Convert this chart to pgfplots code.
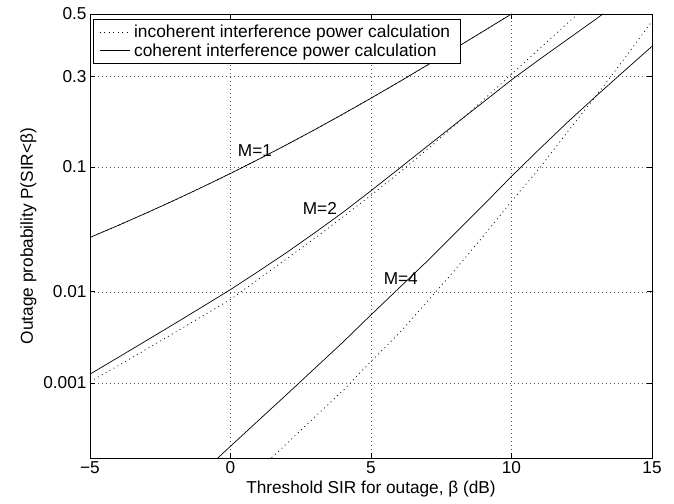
\documentclass[border=0pt]{standalone}
\usepackage{fontspec}
\setmainfont{Liberation Sans}
\usepackage{pgfplots}
\usepackage{pgfplotstable}
\pgfplotsset{compat=1.18}
\pgfplotsset{mylegline/.style={legend image code/.code={\draw[##1] (0bp,0bp) -- (30bp,0bp);}}}

% Outage probability series (x = threshold in dB, p = probability)
\pgfplotstableread{
x p
-5 0.03065
-4 0.03829
-3 0.04773
-2 0.05935
-1 0.07359
0 0.09091
1 0.1118
2 0.1368
3 0.1663
4 0.2008
5 0.2403
6 0.2847
7 0.3339
8 0.3869
9 0.4427
10 0.5
}\Mone
\pgfplotstableread{
x p
-5 0.00128
-4 0.00201
-3 0.00311
-2 0.00473
-1 0.0071
0 0.0105
1 0.0156
2 0.0229
3 0.0335
4 0.0483
5 0.0694
6 0.0977
7 0.1339
8 0.1783
9 0.2302
10 0.2905
11 0.3520
12 0.4161
13 0.4825
13.25 0.5
}\MtwoCoh
\pgfplotstableread{
x p
-5 0.00104
-4 0.00161
-3 0.00249
-2 0.00379
-1 0.0057
0 0.00842
1 0.01321
2 0.02018
3 0.0302
4 0.04457
5 0.0645
6 0.09176
7 0.1282
8 0.1762
9 0.2358
10 0.3068
11 0.3859
12 0.4701
12.36 0.5
}\MtwoInc
\pgfplotstableread{
x p
-1 0.000062
0 0.000147
1 0.000333
2 0.00072
3 0.00150
4 0.00299
5 0.00587
6 0.01087
7 0.01923
8 0.03325
9 0.0548
10 0.08691
11 0.1292
12 0.1827
13 0.2451
14 0.3156
15 0.3932
}\MfourCoh
\pgfplotstableread{
x p
1 0.0000667
2 0.000160
3 0.000369
4 0.000803
5 0.00181
6 0.00374
7 0.00798
8 0.01618
9 0.03144
10 0.0583
11 0.0985
12 0.1623
13 0.2451
14 0.3520
15 0.4761
}\MfourInc

\newcommand{\chartfont}{\fontsize{17.3}{20}\selectfont}
\newcommand{\legfont}{\fontsize{17.4}{20}\selectfont}

\begin{document}
\begin{tikzpicture}
\path[use as bounding box] (-90bp,-46bp) rectangle (584bp,458bp);
\begin{axis}[
  at={(0,0)}, anchor=south west,
  scale only axis, width=562bp, height=444bp,
  xmin=-5, xmax=15, ymin=0.0001, ymax=0.5,
  y coord trafo/.code={%
    \begingroup
    \pgfkeys{/pgf/fpu=true,/pgf/fpu/output format=fixed}%
    \pgfmathparse{sqrt(-2*ln(#1))}\let\myT\pgfmathresult
    \pgfmathparse{-(\myT-(2.515517+0.802853*\myT+0.010328*\myT*\myT)/(1+1.432788*\myT+0.189269*\myT*\myT+0.001308*\myT*\myT*\myT))}%
    \xdef\myProbitRes{\pgfmathresult}%
    \endgroup
    \let\pgfmathresult\myProbitRes},
  xtick={-5,0,5,10,15}, xticklabels={−5,0,5,10,15},
  ytick={0.001,0.01,0.1,0.3,0.5}, yticklabels={0.001,0.01,0.1,0.3,0.5},
  /pgf/number format/assume math mode=true,
  tick align=inside, major tick length=5bp,
  every tick/.style={black, line width=0.8bp},
  grid=major,
  major grid style={draw=black!65, line width=0.5bp, dash pattern=on 0.8bp off 3.2bp},
  axis line style={line width=0.8bp},
  tick label style={font=\chartfont},
  label style={font=\chartfont},
  xlabel={Threshold SIR for outage, β (dB)},
  ylabel={Outage probability P(SIR<β)},
  legend style={at={(0,1)}, anchor=north west, xshift=3bp, yshift=-5bp,
    draw=black, line width=0.8bp, fill=white, font=\legfont,
    inner xsep=6bp, inner ysep=3.5bp, row sep=0bp,
    nodes={inner xsep=4bp, inner ysep=2.2bp}},
  legend cell align=left,
  clip=true,
]
\addplot[black, line width=0.7bp, dash pattern=on 1bp off 3.5bp, mylegline] table[x=x,y=p] {\MtwoInc};
\addlegendentry{incoherent interference power calculation}
\addplot[black, line width=0.7bp, mylegline] table[x=x,y=p] {\MtwoCoh};
\addlegendentry{coherent interference power calculation}
\addplot[black, line width=0.7bp, dash pattern=on 1bp off 3.5bp, forget plot] table[x=x,y=p] {\Mone};
\addplot[black, line width=0.7bp, forget plot] table[x=x,y=p] {\Mone};
\addplot[black, line width=0.7bp, dash pattern=on 1bp off 3.5bp, forget plot] table[x=x,y=p] {\MfourInc};
\addplot[black, line width=0.7bp, forget plot] table[x=x,y=p] {\MfourCoh};
\node[font=\chartfont] at (rel axis cs:0.2936,0.6914) {M=1};
\node[font=\chartfont] at (rel axis cs:0.409,0.563) {M=2};
\node[font=\chartfont] at (rel axis cs:0.553,0.405) {M=4};
\end{axis}
\end{tikzpicture}
\end{document}
